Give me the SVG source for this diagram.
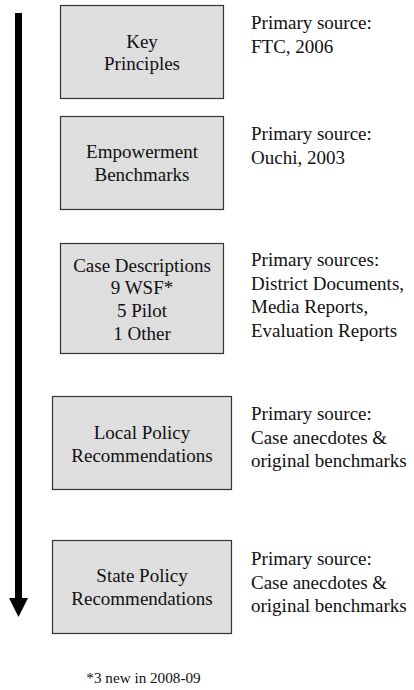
<svg xmlns="http://www.w3.org/2000/svg" width="414" height="690" viewBox="0 0 414 690">
<style>
text{font-family:"Liberation Serif","Times New Roman",serif;font-size:19px;fill:#111}
.c{text-anchor:middle}
.box{fill:#dedede;stroke:#333;stroke-width:1.2}
</style>
<rect width="414" height="690" fill="#fff"/>
<g id="connectors">
<line x1="18.5" y1="13" x2="18.5" y2="599" stroke="#000" stroke-width="7"/>
<path d="M9,598 L28,598 L18.5,617 Z" fill="#000"/>
</g>
<g id="key-principles">
<rect class="box" x="60.5" y="5.5" width="163" height="93"/>
<text class="c" x="142" y="47.5">Key</text>
<text class="c" x="142" y="70">Principles</text>
<text x="251" y="29">Primary source:</text>
<text x="251" y="53">FTC, 2006</text>
</g>
<g id="empowerment-benchmarks">
<rect class="box" x="60.5" y="116.5" width="163" height="93"/>
<text class="c" x="142" y="158">Empowerment</text>
<text class="c" x="142" y="181">Benchmarks</text>
<text x="251" y="140">Primary source:</text>
<text x="251" y="164">Ouchi, 2003</text>
</g>
<g id="case-descriptions">
<rect class="box" x="60.5" y="243.5" width="163" height="110"/>
<text class="c" x="142" y="272">Case Descriptions</text>
<text class="c" x="142" y="294">9 WSF*</text>
<text class="c" x="142" y="317">5 Pilot</text>
<text class="c" x="142" y="340">1 Other</text>
<text x="251" y="266">Primary sources:</text>
<text x="251" y="289.5">District Documents,</text>
<text x="251" y="313">Media Reports,</text>
<text x="251" y="336.5">Evaluation Reports</text>
</g>
<g id="local-policy">
<rect class="box" x="52.5" y="396.5" width="179" height="93"/>
<text class="c" x="142" y="439">Local Policy</text>
<text class="c" x="142" y="462">Recommendations</text>
<text x="251" y="420">Primary source:</text>
<text x="251" y="443.5">Case anecdotes &amp;</text>
<text x="251" y="467">original benchmarks</text>
</g>
<g id="state-policy">
<rect class="box" x="52.5" y="540.5" width="179" height="93"/>
<text class="c" x="142" y="582">State Policy</text>
<text class="c" x="142" y="605">Recommendations</text>
<text x="251" y="565">Primary source:</text>
<text x="251" y="588.5">Case anecdotes &amp;</text>
<text x="251" y="612">original benchmarks</text>
</g>
<g id="footnote">
<text class="c" x="143.5" y="683" style="font-size:15.2px">*3 new in 2008-09</text>
</g>
</svg>
